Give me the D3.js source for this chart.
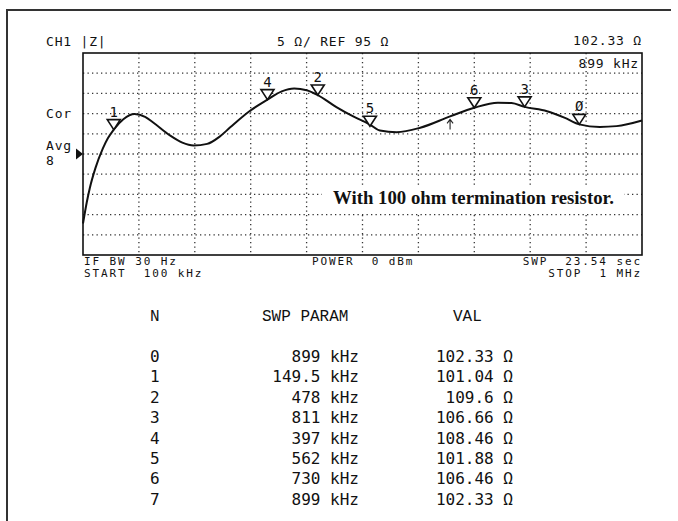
<!DOCTYPE html>
<html><head><meta charset="utf-8">
<script src="https://cdn.jsdelivr.net/npm/d3@7"></script>
<style>html,body{margin:0;padding:0;background:#fff;} text{white-space:pre;}</style>
</head><body><svg id="c" width="678" height="521"></svg>
<script>
// Trace data: frequency (kHz) vs |Z| (ohm)
const traceFreq = [100,106,111,120,132,140,149.5,165,183,200,213,240,260,278,300,320,337,369,397,420,440,460,478,508,535,562,578,605,643,691,730,768,790,811,847,875,899,932,959,1000];
const traceVal  = [77.8,83.0,86.6,91.5,96.4,98.9,101.04,103.6,104.9,104.2,102.8,99.6,97.8,97.1,97.5,99.3,101.6,105.7,108.46,110.5,111.2,110.8,109.6,106.6,104.3,102.3,100.8,100.4,101.5,104.3,106.46,107.7,107.6,106.66,105.6,104.0,102.33,101.7,101.9,103.3];
// Marker table
const markerN    = ["0","1","2","3","4","5","6","7"];
const markerFreq = [899,149.5,478,811,397,562,730,899];
const markerFreqLabel = ["899","149.5","478","811","397","562","730","899"];
const markerVal  = [102.33,101.04,109.6,106.66,108.46,101.88,106.46,102.33];
const markerValLabel = ["102.33","101.04","109.6","106.66","108.46","101.88","106.46","102.33"];
const arrowFreq = [691];
const freqDomain = [100,1000];
const zDomain = [70,120];
const refLevel = [95];

const svg = d3.select("#c");
svg.append("rect").attr("width",678).attr("height",521).attr("fill","#fff");
// outer page border
svg.append("path").attr("d","M7,521V10H671").attr("fill","none").attr("stroke","#333").attr("stroke-width",2);

const x = d3.scaleLinear().domain(freqDomain).range([83,642]);
const y = d3.scaleLinear().domain(zDomain).range([255,53]);

const mono = "'DejaVu Sans Mono', monospace";
function itxt(t, px, py, anchor, fs, ls){
  return svg.append("text").text(t).attr("x",px).attr("y",py)
    .attr("font-family",mono).attr("font-size",fs||13).attr("letter-spacing",ls==null?0.8:ls)
    .attr("text-anchor",anchor||"start").attr("fill","#111");
}

// grid
const g = svg.append("g");
const xt = d3.range(0,11).map(i=>freqDomain[0]+i*(freqDomain[1]-freqDomain[0])/10);
const yt = d3.range(zDomain[0],zDomain[1]+0.1,5);
g.selectAll("line.v").data(xt.slice(1,-1)).join("line")
  .attr("x1",d=>x(d)).attr("x2",d=>x(d)).attr("y1",y(zDomain[1])).attr("y2",y(zDomain[0]))
  .attr("stroke","#333").attr("stroke-width",1.3).attr("stroke-dasharray","1.3,3.2");
g.selectAll("line.h").data(yt.slice(1,-1)).join("line")
  .attr("x1",x(freqDomain[0])).attr("x2",x(freqDomain[1])).attr("y1",d=>y(d)).attr("y2",d=>y(d))
  .attr("stroke","#333").attr("stroke-width",1.3).attr("stroke-dasharray","1.3,3.2");

// annotation box (white background over grid)
svg.append("rect").attr("x",322).attr("y",186).attr("width",302).attr("height",26).attr("fill","#fff");
const ann = svg.append("text").text("With 100 ohm termination resistor.")
  .attr("x",333).attr("y",204).attr("font-family","'Liberation Serif', 'Times New Roman', serif")
  .attr("font-weight","bold").attr("font-size",18).attr("fill","#111");
const w = ann.node().getComputedTextLength();
ann.attr("font-size", 18*281/w);

// frame
svg.append("rect").attr("x",83).attr("y",53).attr("width",559).attr("height",202)
  .attr("fill","none").attr("stroke","#111").attr("stroke-width",1.6);

// trace
const line = d3.line().x(d=>x(d[0])).y(d=>y(d[1])).curve(d3.curveMonotoneX);
svg.append("path").datum(traceFreq.map((f,i)=>[f,traceVal[i]])).attr("d",line)
  .attr("fill","none").attr("stroke","#111").attr("stroke-width",2);

// markers (marker 7 coincides with 0, not drawn)
const mk = svg.append("g");
markerN.forEach((n,i)=>{
  if(n==="7") return;
  const mx = x(markerFreq[i]), my = y(markerVal[i]);
  mk.append("path").attr("d",`M${mx},${my}L${mx-6.5},${my-10}L${mx+6.5},${my-10}Z`)
    .attr("fill","#fff").attr("stroke","#111").attr("stroke-width",1.6);
  mk.append("text").text(n==="0"?"Ø":n).attr("x",mx).attr("y",my-13)
    .attr("text-anchor","middle").attr("font-family",mono).attr("font-size",14).attr("fill","#111");
});

// stimulus arrow
arrowFreq.forEach(f=>{
  const i = d3.bisectLeft(traceFreq,f);
  const t = (f-traceFreq[i-1])/(traceFreq[i]-traceFreq[i-1]);
  const v = traceVal[i-1]+t*(traceVal[i]-traceVal[i-1]);
  const ax = x(f), ay = y(v)+3;
  svg.append("path").attr("d",`M${ax},${ay+10}V${ay}M${ax-3},${ay+4}L${ax},${ay}L${ax+3},${ay+4}`)
    .attr("fill","none").attr("stroke","#222").attr("stroke-width",1.1);
});

// reference level pointer
const ry = y(refLevel[0]);
svg.append("path").attr("d",`M76,${ry-5.5}L83,${ry}L76,${ry+5.5}Z`).attr("fill","#111");

// instrument annotations
itxt("CH1 |Z|",46,46);
itxt("5 Ω/ REF 95 Ω",277,46);
itxt("102.33 Ω",642,45,"end");
itxt("899 kHz",639,68,"end");
itxt("Cor",46,118);
itxt("Avg",46,150);
itxt("8",46,165);
itxt("IF BW 30 Hz",84,265,"start",11,1.9);
itxt("START  100 kHz",84,277,"start",11,1.9);
itxt("POWER  0 dBm",312,265,"start",11,1.9);
itxt("SWP  23.54 sec",642,265,"end",11,1.9);
itxt("STOP  1 MHz",642,277,"end",11,1.9);

// marker table
const hdr = "'Liberation Mono', 'Courier New', monospace";
[["N",150],["SWP PARAM",262],["VAL",453]].forEach(([t,px])=>{
  svg.append("text").text(t).attr("x",px).attr("y",321).attr("font-family",hdr)
    .attr("font-size",16).attr("fill","#111");
});
const tb = svg.append("g").attr("font-family",mono).attr("font-size",16).attr("fill","#111");
markerN.forEach((n,i)=>{
  const by = 362 + i*20.4;
  tb.append("text").text(n).attr("x",150).attr("y",by);
  tb.append("text").text(markerFreqLabel[i]+" kHz").attr("x",359).attr("y",by).attr("text-anchor","end");
  tb.append("text").text(markerValLabel[i]+" Ω").attr("x",513).attr("y",by).attr("text-anchor","end");
});
</script></body></html>
